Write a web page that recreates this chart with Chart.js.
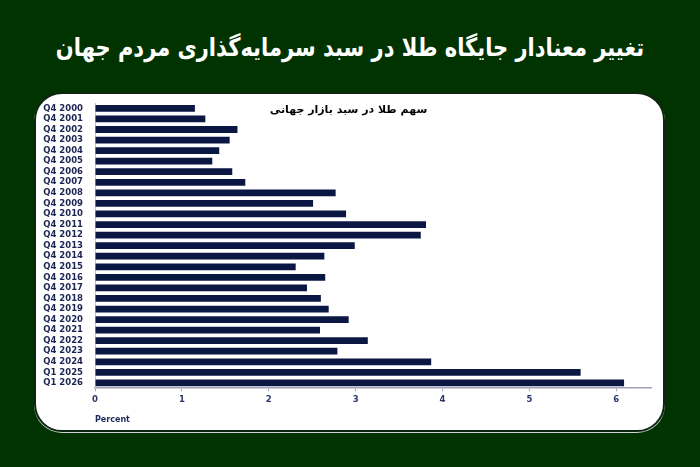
<!DOCTYPE html>
<html lang="fa">
<head>
<meta charset="utf-8">
<script src="https://cdn.jsdelivr.net/npm/chart.js@4.4.1/dist/chart.umd.min.js"></script>
<style>
  html, body { margin: 0; padding: 0; }
  body {
    width: 700px; height: 467px; overflow: hidden;
    background: #013301; position: relative;
    font-family: "DejaVu Sans", sans-serif;
  }
  #titr {
    position: absolute; left: 0; top: 28px; width: 700px;
    text-align: center; color: #fff; font-weight: bold; font-size: 21px;
    direction: rtl; line-height: 40px; transform: scaleY(1.2);
  }
  #panel {
    position: absolute; left: 34px; top: 92px; width: 627px; height: 336px;
    background: #fff; border: 2px solid #0c2410; border-radius: 28px;
    box-shadow: 0 1px 0 #cfd3d0;
  }
  #zir {
    position: absolute; left: 0; top: 9px; width: 625px; text-align: center;
    font-size: 11px; font-weight: bold; color: #000; direction: rtl;
  }
  #wrap { position: absolute; left: 0; top: 0; width: 627px; height: 336px; }
</style>
</head>
<body>
<div id="titr">تغییر معنادار جایگاه طلا در سبد سرمایه‌گذاری مردم جهان</div>
<div id="panel">
  <div id="wrap"><canvas id="graficaTala"></canvas></div>
  <div id="zir">سهم طلا در سبد بازار جهانی</div>
</div>
<script>
// دسته‌ها (محور عمودی)
const periodos = [
  "Q4 2000", "Q4 2001", "Q4 2002", "Q4 2003", "Q4 2004", "Q4 2005",
  "Q4 2006", "Q4 2007", "Q4 2008", "Q4 2009", "Q4 2010", "Q4 2011",
  "Q4 2012", "Q4 2013", "Q4 2014", "Q4 2015", "Q4 2016", "Q4 2017",
  "Q4 2018", "Q4 2019", "Q4 2020", "Q4 2021", "Q4 2022", "Q4 2023",
  "Q4 2024", "Q1 2025", "Q1 2026"
];

// سهم طلا (درصد)، خوانده شده از تصویر
const sahmTala = [
  1.15, 1.27, 1.64, 1.55, 1.43, 1.35,
  1.58, 1.73, 2.77, 2.51, 2.89, 3.81,
  3.75, 2.99, 2.64, 2.31, 2.65, 2.44,
  2.60, 2.69, 2.92, 2.59, 3.14, 2.79,
  3.87, 5.59, 6.09
];

const ticksX = [0, 1, 2, 3, 4, 5, 6];

const lienzo = document.getElementById("graficaTala").getContext("2d");

const chart = new Chart(lienzo, {
  type: "bar",
  data: {
    labels: periodos,
    datasets: [{
      data: sahmTala,
      backgroundColor: "#0b1743",
      borderWidth: 0,
      categoryPercentage: 1,
      barPercentage: 0.64,
    }],
  },
  options: {
    indexAxis: "y",
    responsive: true,
    maintainAspectRatio: false,
    animation: false,
    layout: { padding: { top: 3, right: 12, bottom: 5, left: 0 } },
    plugins: {
      legend: { display: false },
      tooltip: { enabled: false },
    },
    scales: {
      x: {
        min: 0,
        max: 6.4,
        afterBuildTicks: (scale) => {
          scale.ticks = ticksX.map((v) => ({ value: v }));
        },
        grid: { drawOnChartArea: false, tickLength: 3, color: "#9ea3b5" },
        border: { color: "#9ea3b5", width: 1.5 },
        ticks: {
          color: "#2c3868",
          font: { family: "DejaVu Sans", size: 8.5, weight: "bold" },
          padding: 3,
          maxRotation: 0,
        },
        title: {
          display: true,
          text: "Percent",
          align: "start",
          color: "#1e2856",
          font: { family: "DejaVu Sans", size: 8, weight: "bold" },
          padding: { top: 8, bottom: 0 },
        },
      },
      y: {
        afterFit: (scale) => { scale.width = 59; },
        grid: { display: false },
        border: { color: "#c4c7d2", width: 1 },
        ticks: {
          color: "#1b2554",
          font: { family: "DejaVu Sans", size: 8.5, weight: "bold" },
          padding: 4,
          autoSkip: false,
        },
      },
    },
  },
});
</script>
</body>
</html>
